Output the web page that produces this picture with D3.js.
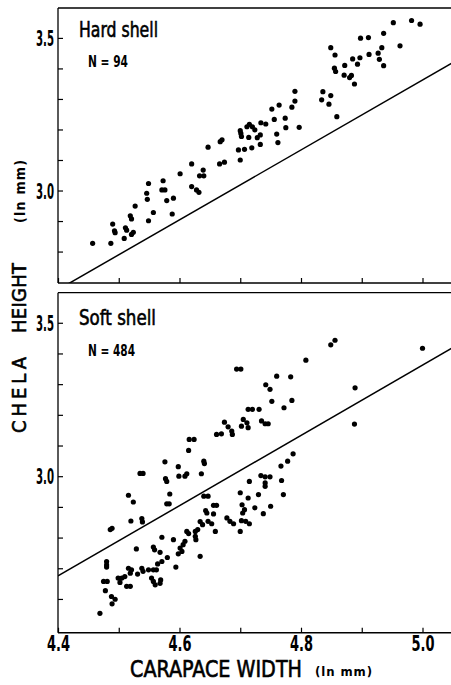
<!DOCTYPE html>
<html><head><meta charset="utf-8">
<script src="https://cdn.jsdelivr.net/npm/d3@7"></script>
<style>body{margin:0;background:#fff}svg{display:block}text{fill:#000}</style>
</head><body><svg id="c" width="451" height="685"></svg>
<script>
const panelTitles = ["Hard shell", "Soft shell"];
const panelCounts = ["N = 94", "N = 484"];
const xTicks = [4.4, 4.5, 4.6, 4.7, 4.8, 4.9, 5.0];
const xTickLabels = ["4.4", "", "4.6", "", "4.8", "", "5.0"];
const yTicksHard = [2.8, 2.9, 3.0, 3.1, 3.2, 3.3, 3.4, 3.5];
const yTicksSoft = [2.6, 2.7, 2.8, 2.9, 3.0, 3.1, 3.2, 3.3, 3.4, 3.5];
const yLabeled = ["3.0", "3.5"];
const fitX = [4.4, 5.05];
const fitY = [2.675, 3.419];

const hardShell = [
[4.457,2.827],[4.487,2.827],[4.490,2.890],[4.493,2.868],[4.494,2.862],[4.509,2.843],[4.511,2.878],[4.513,2.870],
[4.519,2.917],[4.521,2.907],[4.521,2.856],[4.524,2.863],[4.527,2.949],[4.546,2.991],[4.547,2.971],[4.549,3.023],
[4.549,2.901],[4.557,2.928],[4.573,3.032],[4.571,3.002],[4.576,3.002],[4.579,2.967],[4.588,2.923],[4.590,2.975],
[4.601,3.055],[4.620,3.087],[4.620,3.013],[4.628,3.002],[4.632,2.994],[4.633,3.048],[4.640,3.048],[4.639,3.067],
[4.647,3.142],[4.666,3.087],[4.674,3.093],[4.667,3.160],[4.670,3.166],[4.700,3.100],[4.697,3.133],[4.707,3.135],
[4.700,3.196],[4.701,3.187],[4.702,3.177],[4.711,3.209],[4.715,3.217],[4.720,3.209],[4.714,3.174],[4.719,3.140],
[4.724,3.199],[4.728,3.173],[4.733,3.182],[4.733,3.151],[4.734,3.222],[4.742,3.218],[4.752,3.267],[4.756,3.233],
[4.760,3.185],[4.762,3.157],[4.764,3.280],[4.774,3.237],[4.775,3.206],[4.785,3.273],[4.790,3.293],[4.790,3.325],
[4.797,3.207],[4.834,3.297],[4.836,3.324],[4.846,3.283],[4.849,3.311],[4.849,3.468],[4.856,3.444],[4.855,3.401],
[4.857,3.390],[4.859,3.242],[4.871,3.378],[4.872,3.410],[4.880,3.370],[4.883,3.377],[4.885,3.431],[4.888,3.349],
[4.893,3.414],[4.897,3.435],[4.898,3.499],[4.911,3.501],[4.912,3.446],[4.927,3.450],[4.929,3.430],[4.933,3.468],
[4.936,3.409],[4.936,3.515],[4.952,3.550],[4.963,3.474],[4.982,3.557],[4.996,3.545]
];

const softShell = [
[4.849,3.428],[4.856,3.443],[5.000,3.417],[4.808,3.378],[4.694,3.349],[4.701,3.349],[4.760,3.326],[4.783,3.324],
[4.742,3.298],[4.749,3.283],[4.889,3.288],[4.752,3.244],[4.785,3.247],[4.772,3.223],[4.713,3.218],[4.720,3.218],
[4.731,3.218],[4.705,3.185],[4.711,3.174],[4.713,3.158],[4.702,3.163],[4.735,3.180],[4.741,3.171],[4.746,3.171],
[4.674,3.176],[4.680,3.161],[4.686,3.147],[4.687,3.136],[4.661,3.136],[4.669,3.138],[4.888,3.170],[4.616,3.120],
[4.624,3.120],[4.615,3.084],[4.640,3.049],[4.641,3.041],[4.576,3.047],[4.598,3.031],[4.577,2.992],[4.579,2.983],
[4.599,3.000],[4.609,3.000],[4.612,3.008],[4.636,3.008],[4.535,3.009],[4.540,3.009],[4.516,2.938],[4.524,2.916],
[4.584,2.942],[4.579,2.910],[4.583,2.910],[4.538,2.862],[4.539,2.851],[4.520,2.854],[4.486,2.826],[4.489,2.830],
[4.640,2.935],[4.647,2.935],
[4.787,3.073],[4.778,3.049],[4.767,3.033],[4.768,2.986],[4.771,2.940],[4.734,3.002],[4.741,2.998],[4.749,2.998],
[4.741,2.978],[4.741,2.967],[4.750,2.902],[4.730,2.940],[4.738,2.878],[4.724,2.897],[4.715,2.983],[4.713,2.929],
[4.700,2.946],[4.700,2.820],[4.703,2.907],[4.707,2.891],[4.704,2.880],[4.702,2.855],[4.709,2.853],[4.715,2.845],
[4.678,2.864],[4.683,2.853],[4.689,2.845],[4.643,2.888],[4.645,2.880],[4.656,2.905],[4.661,2.905],[4.656,2.877],
[4.647,2.853],[4.653,2.845],[4.659,2.820],[4.634,2.852],[4.638,2.842],[4.630,2.826],[4.626,2.820],[4.612,2.820],
[4.615,2.813],[4.626,2.804],[4.627,2.793],[4.634,2.739],[4.609,2.788],[4.606,2.777],[4.601,2.766],[4.604,2.755],
[4.598,2.747],[4.590,2.793],[4.571,2.801],[4.529,2.763],[4.557,2.769],[4.559,2.760],[4.568,2.752],[4.571,2.722],
[4.564,2.714],[4.580,2.735],[4.594,2.704],[4.549,2.695],[4.557,2.695],[4.562,2.695],[4.538,2.700],[4.540,2.690],
[4.516,2.700],[4.521,2.695],[4.519,2.684],[4.531,2.681],[4.554,2.668],[4.557,2.657],[4.560,2.646],[4.568,2.651],
[4.569,2.662],[4.499,2.668],[4.505,2.668],[4.510,2.673],[4.502,2.654],[4.513,2.641],[4.519,2.641],[4.480,2.722],
[4.480,2.711],[4.480,2.704],[4.475,2.657],[4.481,2.657],[4.478,2.627],[4.488,2.608],[4.494,2.599],[4.489,2.584],
[4.469,2.553]
];

const FONT = "'Liberation Sans Narrow','DejaVu Sans Condensed','Liberation Sans',Arial,sans-serif";
const svg = d3.select("#c");
const W = 451, L = 58;
const x = d3.scaleLinear().domain([4.4, 5.0]).range([L, 422.5]);

const panels = [
  {data: hardShell, ticks: yTicksHard, dom: [2.697, 3.598], rng: [283, 8], title: panelTitles[0], n: panelCounts[0],
   tY: 36.5, tLen: 79, nY: 67, nLen: 40, labels: false},
  {data: softShell, ticks: yTicksSoft, dom: [2.49, 3.598], rng: [632.7, 292.7], title: panelTitles[1], n: panelCounts[1],
   tY: 324.5, tLen: 77, nY: 355.5, nLen: 47, labels: true}
];

panels.forEach((p, i) => {
  const y = d3.scaleLinear().domain(p.dom).range(p.rng);
  const g = svg.append("g");
  const cid = "clip" + i;
  svg.append("clipPath").attr("id", cid).append("rect")
    .attr("x", L).attr("y", p.rng[1]).attr("width", W - L).attr("height", p.rng[0] - p.rng[1]);

  g.append("line").attr("x1", L).attr("x2", W).attr("y1", p.rng[1]).attr("y2", p.rng[1])
    .attr("stroke", "#000").attr("stroke-width", 1.3);

  const ya = d3.axisLeft(y).tickValues(p.ticks).tickSize(-5).tickSizeOuter(0).tickPadding(4)
    .tickFormat(d => yLabeled.includes(d.toFixed(1)) ? d.toFixed(1) : "");
  const yg = g.append("g").attr("transform", `translate(${L},0)`).call(ya);
  yg.select(".domain").attr("stroke-width", 1.3).attr("d", `M0,${p.rng[0]}V${p.rng[1]}`);
  yg.selectAll(".tick line").attr("stroke-width", 1.2);
  yg.selectAll(".tick text").attr("font-family", FONT).attr("font-size", 21).attr("font-weight", "bold")
    .attr("fill", "#000").attr("dy", "0.36em")
    .each(function() { if (this.textContent) d3.select(this).attr("textLength", 18).attr("lengthAdjust", "spacingAndGlyphs"); });

  const xa = d3.axisBottom(x).tickValues(xTicks).tickSize(-5).tickSizeOuter(0).tickPadding(3)
    .tickFormat((d, j) => p.labels ? xTickLabels[j] : "");
  const xg = g.append("g").attr("transform", `translate(0,${p.rng[0]})`).call(xa);
  xg.select(".domain").attr("stroke-width", 1.6).attr("d", `M${L},0H${W}`);
  xg.selectAll(".tick line").attr("stroke-width", 1.2);
  xg.selectAll(".tick text").attr("font-family", FONT).attr("font-size", 22).attr("font-weight", "bold")
    .attr("fill", "#000")
    .each(function() { if (this.textContent) d3.select(this).attr("textLength", 23).attr("lengthAdjust", "spacingAndGlyphs"); });

  g.append("path").attr("clip-path", `url(#${cid})`)
    .attr("d", d3.line().x(d => x(d[0])).y(d => y(d[1]))(fitX.map((v, k) => [v, fitY[k]])))
    .attr("fill", "none").attr("stroke", "#000").attr("stroke-width", 1.5);

  g.append("g").selectAll("circle").data(p.data).join("circle")
    .attr("cx", d => x(d[0])).attr("cy", d => y(d[1])).attr("r", 2.6).attr("fill", "#000");

  g.append("text").attr("x", 79).attr("y", p.tY).attr("font-family", FONT).attr("font-size", 22)
    .attr("stroke", "#000").attr("stroke-width", 0.6)
    .attr("textLength", p.tLen).attr("lengthAdjust", "spacingAndGlyphs").text(p.title);
  g.append("text").attr("x", 88).attr("y", p.nY).attr("font-family", FONT).attr("font-size", 16).attr("font-weight", "bold")
    .attr("textLength", p.nLen).attr("lengthAdjust", "spacingAndGlyphs").text(p.n);
});

svg.append("text").attr("x", 130).attr("y", 677).attr("font-family", FONT).attr("font-size", 23)
  .attr("stroke", "#000").attr("stroke-width", 0.6)
  .attr("textLength", 172).attr("lengthAdjust", "spacingAndGlyphs").text("CARAPACE WIDTH");
svg.append("text").attr("x", 315).attr("y", 676).attr("font-family", FONT).attr("font-size", 13).attr("font-weight", "bold")
  .attr("textLength", 57).attr("lengthAdjust", "spacing").text("(ln mm)");

const yt = svg.append("text").attr("transform", "translate(26,433) rotate(-90)")
  .attr("font-family", FONT).attr("font-size", 20).attr("stroke", "#000").attr("stroke-width", 0.6);
yt.append("tspan").attr("x", 0).attr("textLength", 76).attr("lengthAdjust", "spacing").text("CHELA");
yt.append("tspan").text(" ");
yt.append("tspan").attr("x", 100).attr("textLength", 70).attr("lengthAdjust", "spacing").text("HEIGHT");

svg.append("text").attr("transform", "translate(25,223) rotate(-90)").attr("font-family", FONT).attr("font-size", 14)
  .attr("font-weight", "bold")
  .attr("textLength", 63).attr("lengthAdjust", "spacing").text("(ln mm)");
</script></body></html>
